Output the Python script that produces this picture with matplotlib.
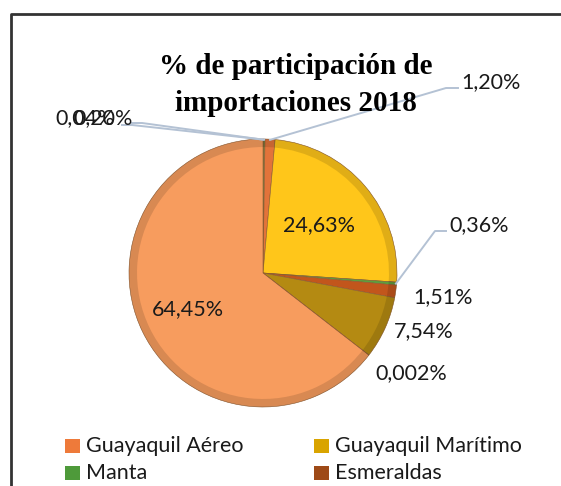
import matplotlib.pyplot as plt
import numpy as np

# slices in clockwise order starting at 12 o'clock
values = [0.04, 0.20, 1.20, 24.63, 0.36, 1.51, 7.54, 0.002, 64.45]
labels = ["0,04%", "0,20%", "1,20%", "24,63%", "0,36%", "1,51%", "7,54%", "0,002%", "64,45%"]
colors = ["#7A3A12", "#6E9A45", "#E2733A", "#FFC61A", "#5E9E3E", "#C2561C", "#B48A12", "#3F6A2A", "#F79C5E"]

legend_names = ["Guayaquil Aéreo", "Guayaquil Marítimo", "Manta", "Esmeraldas"]
legend_colors = ["#EE7A3A", "#D9A400", "#4E9A3A", "#9E4A17"]

W, H = 561, 486
fig = plt.figure(figsize=(W / 100, H / 100), dpi=100)

# overlay in pixel coordinates for text, border and leader lines
ov = fig.add_axes([0, 0, 1, 1])
ov.set_xlim(0, W)
ov.set_ylim(H, 0)
ov.axis("off")

cx, cy, r = 263, 273, 134
ax = fig.add_axes([(cx - r) / W, (H - cy - r) / H, 2 * r / W, 2 * r / H])
wedges, _ = ax.pie(values, colors=colors, startangle=90, counterclock=False,
                   wedgeprops=dict(edgecolor="#8a5a30", linewidth=0.4))
ax.set_xlim(-1, 1)
ax.set_ylim(-1, 1)
ax.set_zorder(1)
ov.set_zorder(2)
ov.patch.set_alpha(0)

# bevel-like rim
for w in wedges:
    ax.add_patch(plt.matplotlib.patches.Wedge((0, 0), 1.0, w.theta1, w.theta2, width=0.06,
                                               facecolor="black", alpha=0.12, linewidth=0))


def edge_point(i, rad=1.0):
    w = wedges[i]
    ang = np.deg2rad((w.theta1 + w.theta2) / 2)
    p = ax.transData.transform((rad * np.cos(ang), rad * np.sin(ang)))
    return ov.transData.inverted().transform(p)


lab_font = dict(family="Lato", fontsize=15.5, color="#1a1a1a")

# inside labels
for i, rad in {3: 0.55, 8: 0.62}.items():
    x, y = edge_point(i, rad)
    ov.text(x, y, labels[i], ha="center", va="center", **lab_font)

# outside labels: (label x, label y, elbow x, elbow y)
outside = {
    0: (55, 118, 142, 123),
    1: (73, 118, 132, 125),
    2: (461, 82, 446, 88),
    4: (449, 225, 435, 231),
    5: (413, 297, None, None),
    6: (394, 331, None, None),
    7: (375, 373, None, None),
}
for i, (lx, ly, ex, ey) in outside.items():
    if ex is not None:
        px, py = edge_point(i, 0.995)
        hx = lx - 3 if i >= 2 else ex - 10
        ov.plot([px, ex, hx], [py, ey, ey], color="#b4c2d4", lw=1.4, zorder=1)
    ov.text(lx, ly, labels[i], ha="left", va="center", **lab_font)

# title
ov.text(296, 85, "% de participación de\nimportaciones 2018", ha="center", va="center",
        family="Liberation Serif", fontweight="bold", fontsize=21, linespacing=1.45,
        color="black")

# legend (first entries)
for k, (name, c) in enumerate(zip(legend_names, legend_colors)):
    col, row = k % 2, k // 2
    mx = 65 + col * 249
    my = 446 + row * 27
    ov.add_patch(plt.Rectangle((mx, my - 7), 15, 14, facecolor=c, edgecolor="none"))
    ov.text(mx + 21, my, name, ha="left", va="center", **lab_font)

# chart border (cropped on the right and bottom)
ov.plot([11, 11, W + 5], [H + 5, 14, 14], color="#333333", lw=2)

fig.savefig("out.png", dpi=100)
